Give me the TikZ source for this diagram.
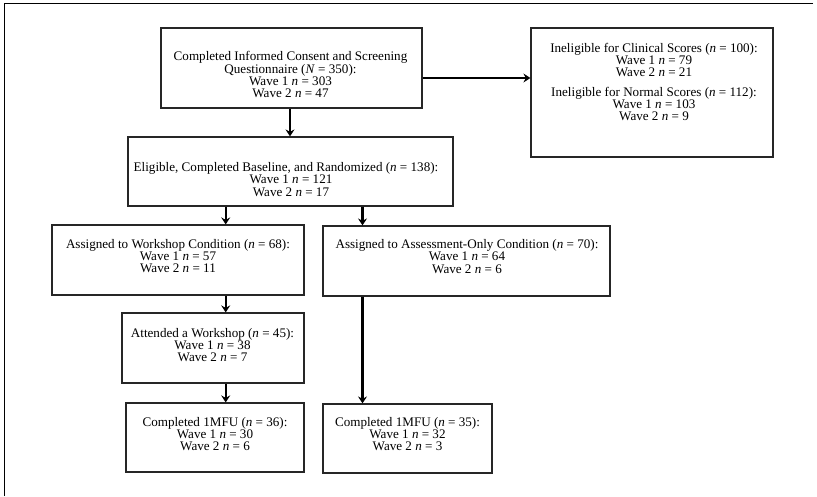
\documentclass[tikz,border=0pt]{standalone}
\usepackage{fontspec}
\setmainfont{Liberation Serif}
\usetikzlibrary{arrows.meta}
\begin{document}
\begin{tikzpicture}[x=1pt,y=-1pt,
  box/.style={draw=black!85,line width=1.2pt,rectangle,inner sep=0pt},
  txt/.style={align=center,inner sep=0pt,anchor=base,font=\fontsize{13.1}{12.2}\selectfont},
  arr/.style={line width=2.2pt,-{Stealth[length=7pt,width=9pt,inset=2.5pt]}},
  frameline/.style={line width=1.5pt}]
\useasboundingbox (0,0) rectangle (817,496);
% frame (top and left edges)
\coordinate (fTL) at (4.5,3.5);
\coordinate (fTR) at (813,3.5);
\coordinate (fBL) at (4.5,496);
\draw[frameline] (fTR) -- (fTL) -- (fBL);
% boxes
\node[box,minimum width=261pt,minimum height=80pt] (b1) at (291.5,68) {};
\node[box,minimum width=242pt,minimum height=129pt] (b3) at (652,92.5) {};
\node[box,minimum width=325pt,minimum height=69pt] (b2) at (290.5,171.5) {};
\node[box,minimum width=252pt,minimum height=70pt] (b4) at (178,260) {};
\node[box,minimum width=287pt,minimum height=70pt] (b5) at (466.5,261) {};
\node[box,minimum width=182pt,minimum height=70pt] (b6) at (213,348) {};
\node[box,minimum width=178pt,minimum height=69pt] (b7) at (215,437.5) {};
\node[box,minimum width=169pt,minimum height=69pt] (b8) at (407.5,438.5) {};
% texts (anchor base = baseline of the last line)
\node[txt] (t1) at (290.5,97.5) {Completed Informed Consent and Screening\\Questionnaire (\textit{N} = 350):\\Wave 1 \textit{n} = 303\\Wave 2 \textit{n} = 47};
\node[txt] (t3) at (654,120.5) {Ineligible for Clinical Scores (\textit{n} = 100):\\Wave 1 \textit{n} = 79\\Wave 2 \textit{n} = 21\\[7pt]Ineligible for Normal Scores (\textit{n} = 112):\\Wave 1 \textit{n} = 103\\Wave 2 \textit{n} = 9};
\node[txt] (t2) at (291,196) {Eligible, Completed Baseline, and Randomized (\textit{n} = 138):\hspace*{10pt}\null\\Wave 1 \textit{n} = 121\\Wave 2 \textit{n} = 17};
\node[txt] (t4) at (178,272.5) {Assigned to Workshop Condition (\textit{n} = 68):\\Wave 1 \textit{n} = 57\\Wave 2 \textit{n} = 11};
\node[txt] (t5) at (467,273) {Assigned to Assessment-Only Condition (\textit{n} = 70):\\Wave 1 \textit{n} = 64\\Wave 2 \textit{n} = 6};
\node[txt] (t6) at (212.5,361.5) {Attended a Workshop (\textit{n} = 45):\\Wave 1 \textit{n} = 38\\Wave 2 \textit{n} = 7};
\node[txt] (t7) at (215,450.5) {Completed 1MFU (\textit{n} = 36):\\Wave 1 \textit{n} = 30\\Wave 2 \textit{n} = 6};
\node[txt] (t8) at (407.5,450.5) {Completed 1MFU (\textit{n} = 35):\\Wave 1 \textit{n} = 32\\Wave 2 \textit{n} = 3};
% connector columns
\coordinate (cA) at (290,0);
\coordinate (cL) at (225.7,0);
\coordinate (cR) at (362.5,0);
\coordinate (rH) at (0,78);
% connectors
\draw[arr] (b1.south -| cA) -- (b2.north -| cA);
\draw[arr] (b1.east |- rH) -- (b3.west |- rH);
\draw[arr] (b2.south -| cL) -- (b4.north -| cL);
\draw[arr] (b2.south -| cR) -- (b5.north -| cR);
\draw[arr] (b4.south -| cL) -- (b6.north -| cL);
\draw[arr] (b6.south -| cL) -- (b7.north -| cL);
\draw[arr] (b5.south -| cR) -- (b8.north -| cR);
\end{tikzpicture}
\end{document}
